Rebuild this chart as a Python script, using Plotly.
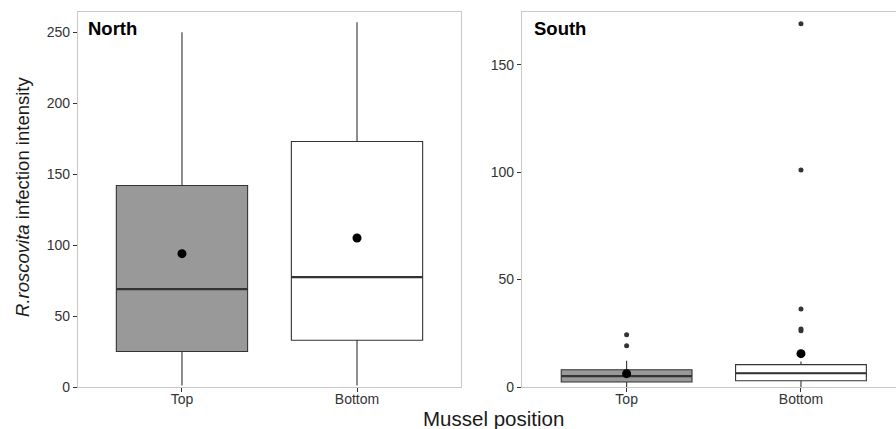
import plotly.graph_objects as go

positions = ["Top", "Bottom"]

# North panel box statistics
north_q1 = [25, 33]
north_median = [69, 77.5]
north_q3 = [142, 173]
north_lower = [1, 1]
north_upper = [250, 257]
north_mean = [94, 105]

# South panel box statistics
south_q1 = [2.3, 2.9]
south_median = [5.1, 6.4]
south_q3 = [8.0, 10.4]
south_lower = [0, 0]
south_upper = [12.2, 11.9]
south_mean = [6.2, 15.5]

south_out_top = [19.2, 24.3]
south_out_bottom = [26.2, 27.0, 36.3, 101, 169]

fills = ["#999999", "#ffffff"]
line_col = "#333333"
font_family = "Liberation Sans, Arial, sans-serif"
box_w = 0.75

fig = go.Figure()
shapes = []

def add_boxes(q1, med, q3, lo, hi, mean, xa, ya):
    for i, p in enumerate(positions):
        fig.add_trace(go.Box(
            x=[p], q1=[q1[i]], median=[med[i]], q3=[q3[i]],
            lowerfence=[lo[i]], upperfence=[hi[i]],
            fillcolor=fills[i], line=dict(color=line_col, width=1.1),
            width=box_w, whiskerwidth=0, boxpoints=False, showlegend=False,
            xaxis=xa, yaxis=ya, hoverinfo="skip"))
        # thicker median line (ggplot style)
        shapes.append(dict(type="line", xref=xa, yref=ya,
                           x0=i - box_w / 2, x1=i + box_w / 2, y0=med[i], y1=med[i],
                           line=dict(color=line_col, width=2.2), layer="above"))
        # mean dot drawn above the median line
        shapes.append(dict(type="circle", xref=xa, yref=ya,
                           xsizemode="pixel", ysizemode="pixel",
                           xanchor=i, yanchor=mean[i], x0=-4.5, x1=4.5, y0=-4.5, y1=4.5,
                           fillcolor="black", line=dict(width=0), layer="above"))

add_boxes(north_q1, north_median, north_q3, north_lower, north_upper, north_mean, "x", "y")
add_boxes(south_q1, south_median, south_q3, south_lower, south_upper, south_mean, "x2", "y2")

# outliers (South)
fig.add_trace(go.Scatter(x=["Top"] * len(south_out_top), y=south_out_top, mode="markers",
                         marker=dict(color="#333333", size=5), showlegend=False,
                         xaxis="x2", yaxis="y2", hoverinfo="skip"))
fig.add_trace(go.Scatter(x=["Bottom"] * len(south_out_bottom), y=south_out_bottom, mode="markers",
                         marker=dict(color="#333333", size=5), showlegend=False,
                         xaxis="x2", yaxis="y2", hoverinfo="skip"))

axis_common = dict(showgrid=False, zeroline=False, ticks="outside", ticklen=4,
                   tickcolor="#333333", tickwidth=1,
                   tickfont=dict(family=font_family, size=14, color="#333333"),
                   showline=True, linecolor="#c8c8c8", linewidth=1.2)

fig.update_layout(
    width=896, height=429,
    margin=dict(l=78, r=0, t=12, b=42),
    paper_bgcolor="white", plot_bgcolor="white",
    font=dict(family=font_family),
    shapes=shapes,
    xaxis=dict(domain=[0, 0.4682], type="category", categoryorder="array",
               categoryarray=positions, range=[-0.594, 1.594], mirror=True,
               ticklabelstandoff=-5, **axis_common),
    yaxis=dict(range=[0, 264.3], tickvals=[0, 50, 100, 150, 200, 250], mirror=True,
               **axis_common),
    xaxis2=dict(domain=[0.5428, 1], type="category", categoryorder="array",
                categoryarray=positions, range=[-0.6, 1.545], mirror=True,
                anchor="y2", ticklabelstandoff=-5, **axis_common),
    yaxis2=dict(range=[0, 174.5], tickvals=[0, 50, 100, 150], mirror=False,
                anchor="x2", **axis_common),
    annotations=[
        dict(text="<b>North</b>", xref="paper", yref="paper", x=0.0098, y=0.957,
             xanchor="left", yanchor="middle", showarrow=False,
             font=dict(size=18.5, color="black", family=font_family)),
        dict(text="<b>South</b>", xref="paper", yref="paper", x=0.5555, y=0.957,
             xanchor="left", yanchor="middle", showarrow=False,
             font=dict(size=18.5, color="black", family=font_family)),
        dict(text="<i>R.roscovita</i> infection intensity", xref="paper", yref="paper",
             x=-0.068, y=0.508, xanchor="center", yanchor="middle", textangle=-90,
             showarrow=False, font=dict(size=18.5, color="#1a1a1a", family=font_family)),
        dict(text="Mussel position", xref="paper", yref="paper", x=0.5078, y=-0.085,
             xanchor="center", yanchor="middle", showarrow=False,
             font=dict(size=20.5, color="#1a1a1a", family=font_family)),
    ],
)

fig.write_html("out.html", config={"displayModeBar": False, "staticPlot": True},
               post_script="document.body.style.margin='0';document.body.style.overflow='hidden';")
